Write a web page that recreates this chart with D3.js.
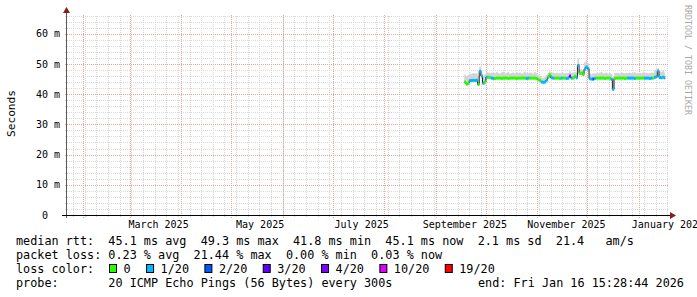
<!DOCTYPE html>
<html>
<head>
<meta charset="utf-8">
<script src="https://cdn.jsdelivr.net/npm/d3@7/dist/d3.min.js"></script>
<style>
body { margin: 0; background: #fff; }
svg { display: block; font-family: "DejaVu Sans Mono", monospace; }
text { white-space: pre; }
</style>
</head>
<body>
<svg width="697" height="297"></svg>
<script>
// daily median rtt (ms), from 18 Sep 2025
const medians = [
  44.0, 43.3, 43.6, 44.5, 44.5, 44.6, 44.5, 44.6, 43.2, 47.6,
  46.0, 43.6, 44.0, 45.6, 45.6, 45.5, 45.3, 45.2, 45.2, 45.3,
  45.3, 45.3, 45.2, 45.3, 45.3, 45.3, 45.2, 45.3, 45.3, 45.3,
  45.3, 45.2, 45.3, 45.3, 45.3, 45.3, 45.3, 45.2, 45.3, 45.3,
  45.3, 45.3, 45.3, 45.2, 44.8, 44.5, 44.0, 43.9, 44.0, 44.6,
  45.6, 46.4, 45.4, 45.3, 45.3, 45.3, 45.3, 45.2, 45.3, 45.3,
  45.3, 45.2, 45.3, 46.0, 45.3, 45.3, 45.9, 45.4, 49.5, 46.8,
  47.0, 46.5, 48.3, 49.0, 48.4, 45.1, 45.0, 45.0, 45.2, 45.3,
  45.3, 45.3, 45.3, 45.3, 45.2, 45.3, 45.3, 45.3, 44.9, 41.6,
  45.2, 45.3, 45.3, 45.3, 45.3, 45.3, 45.2, 45.3, 45.3, 45.3,
  45.3, 45.3, 45.2, 45.3, 45.3, 45.3, 45.3, 45.3, 45.3, 45.3,
  45.3, 45.2, 45.3, 45.3, 45.6, 45.8, 47.6, 45.5, 45.4, 45.6,
  45.4
];
// top of the smoke (slowest ping), ms
const smokeHi = [
  46.4, 46.0, 46.3, 46.8, 46.7, 47.0, 46.8, 46.9, 46.2, 49.0,
  47.8, 46.2, 46.6, 47.3, 47.2, 47.0, 47.2, 47.0, 46.9, 47.3,
  47.0, 46.8, 47.2, 47.4, 46.9, 47.1, 47.3, 46.8, 47.0, 47.2,
  46.9, 47.3, 47.0, 47.2, 46.8, 47.1, 47.4, 47.0, 46.9, 47.2,
  47.1, 46.8, 47.3, 46.9, 46.4, 46.0, 45.6, 45.4, 45.7, 46.3,
  47.0, 47.6, 47.0, 47.2, 46.9, 47.1, 47.0, 46.8, 47.2, 47.0,
  46.8, 47.1, 47.0, 47.6, 47.0, 47.2, 47.4, 47.1, 51.8, 48.2,
  48.4, 48.0, 50.6, 51.4, 50.2, 46.8, 46.6, 46.9, 46.8, 47.0,
  46.9, 47.1, 47.3, 46.9, 47.0, 47.2, 46.8, 47.0, 46.7, 45.6,
  46.9, 47.1, 47.0, 46.8, 47.2, 47.0, 46.9, 47.1, 47.0, 47.2,
  46.9, 47.0, 47.3, 46.8, 47.1, 47.0, 46.9, 47.2, 47.0, 47.1,
  46.8, 47.0, 47.2, 47.1, 47.8, 48.3, 48.6, 47.6, 47.4, 47.8,
  47.2
];
// lost pings out of 20
const lossCount = [
  0, 0, 0, 1, 1, 1, 1, 1, 0, 1,
  1, 1, 0, 1, 0, 0, 1, 1, 0, 0,
  0, 0, 0, 0, 0, 0, 0, 0, 0, 0,
  0, 0, 0, 0, 0, 0, 0, 1, 1, 0,
  0, 0, 0, 0, 0, 0, 1, 1, 1, 1,
  0, 0, 1, 1, 0, 0, 0, 0, 1, 0,
  0, 1, 1, 4, 1, 0, 0, 1, 1, 0,
  0, 0, 1, 1, 1, 1, 1, 2, 1, 0,
  0, 0, 0, 0, 0, 0, 0, 0, 1, 1,
  0, 0, 0, 0, 0, 0, 0, 0, 1, 1,
  1, 1, 1, 0, 0, 0, 0, 0, 1, 1,
  1, 1, 1, 0, 1, 1, 1, 1, 1, 1,
  1
];
const lossSteps = [0, 1, 2, 3, 4, 10, 19];
const lossLabels = ["0", "1/20", "2/20", "3/20", "4/20", "10/20", "19/20"];
const lossColors = ["#26ff00", "#00b8ff", "#0059ff", "#5e00ff", "#7e00ff", "#dd00ff", "#ff0000"];
const yTicks = [0, 10, 20, 30, 40, 50, 60];
const legendLines = [
  "median rtt:  45.1 ms avg  49.3 ms max  41.8 ms min  45.1 ms now  2.1 ms sd  21.4   am/s",
  "packet loss: 0.23 % avg  21.44 % max  0.00 % min  0.03 % now",
  "loss color:",
  "probe:       20 ICMP Echo Pings (56 Bytes) every 300s"
];
const endLabel = "end: Fri Jan 16 15:28:44 2026";

const svg = d3.select('svg');
const pLeft = 67, pRight = 668, pTop = 15, pBottom = 215;

const firstDay = new Date(2025, 8, 18);
const endTime = new Date(2026, 0, 16, 15, 28, 44);
const t0 = new Date(2025, 0, 22, 9, 20);
const t1 = new Date(2026, 0, 18, 10, 5);

const x = d3.scaleTime().domain([t0, t1]).range([pLeft, pRight]);
const y = d3.scaleLinear().domain([0, 66.2]).range([pBottom, pTop]);

const lossColor = n => {
  let c = lossColors[0];
  lossSteps.forEach((s, i) => { if (n >= s) c = lossColors[i]; });
  return c;
};

const pts = medians.map((m, i) => ({
  t: d3.timeDay.offset(firstDay, i), m: m, hi: smokeHi[i], loss: lossCount[i]
}));
pts.forEach((p, i) => { p.t2 = i < pts.length - 1 ? pts[i + 1].t : endTime; });
const stepPts = pts.concat([{ t: endTime, m: pts[pts.length - 1].m, hi: pts[pts.length - 1].hi }]);

// grid
const grid = svg.append('g').attr('shape-rendering', 'crispEdges');
const minorY = d3.range(0, 67, 2).filter(v => v % 10 !== 0);
grid.selectAll('.hmin').data(minorY).enter().append('line')
  .attr('x1', pLeft - 2).attr('x2', pRight)
  .attr('y1', d => Math.round(y(d)) + 0.5).attr('y2', d => Math.round(y(d)) + 0.5)
  .attr('stroke', '#dadada').attr('stroke-dasharray', '1,1');
const weeks = d3.timeWeek.range(t0, t1);
grid.selectAll('.vmin').data(weeks).enter().append('line')
  .attr('y1', pBottom + 2).attr('y2', pTop)
  .attr('x1', d => Math.round(x(d)) + 0.5).attr('x2', d => Math.round(x(d)) + 0.5)
  .attr('stroke', '#d6d6d6').attr('stroke-dasharray', '1,1');
grid.selectAll('.hmaj').data(yTicks.slice(1)).enter().append('line')
  .attr('x1', pLeft - 2).attr('x2', pRight)
  .attr('y1', d => Math.round(y(d)) + 0.5).attr('y2', d => Math.round(y(d)) + 0.5)
  .attr('stroke', '#e8a4a4').attr('stroke-dasharray', '1,1');
const months = d3.timeMonth.range(t0, t1);
grid.selectAll('.vmaj').data(months).enter().append('line')
  .attr('y1', pBottom + 3).attr('y2', pTop)
  .attr('x1', d => Math.round(x(d)) + 0.5).attr('x2', d => Math.round(x(d)) + 0.5)
  .attr('stroke', '#e8a4a4').attr('stroke-dasharray', '1,1');

// smoke
svg.append('path')
  .datum(stepPts)
  .attr('fill', '#d4d4d4')
  .attr('d', d3.area().curve(d3.curveStepAfter)
    .x(d => x(d.t)).y0(d => y(d.m)).y1(d => y(d.hi)));

// median: black steps, then loss coloured band
svg.append('path')
  .datum(stepPts)
  .attr('fill', 'none').attr('stroke', '#202020').attr('stroke-width', 1)
  .attr('d', d3.line().curve(d3.curveStepAfter).x(d => x(d.t)).y(d => y(d.m)));
svg.selectAll('.med').data(pts).enter().append('rect')
  .attr('x', d => x(d.t)).attr('width', d => x(d.t2) - x(d.t) + 0.3)
  .attr('y', d => y(d.m) - 1.5).attr('height', 3)
  .attr('fill', d => lossColor(d.loss));

// axes
svg.append('line').attr('x1', pLeft - 0.5).attr('x2', pLeft - 0.5)
  .attr('y1', pBottom + 3).attr('y2', 12).attr('stroke', '#5a5a5a');
svg.append('line').attr('x1', pLeft - 5).attr('x2', 670)
  .attr('y1', pBottom + 0.5).attr('y2', pBottom + 0.5).attr('stroke', '#000');
svg.append('path').attr('d', `M670,${pBottom - 3}L676,${pBottom + 0.5}L670,${pBottom + 4}Z`).attr('fill', '#8b1a1a');
svg.append('path').attr('d', `M${pLeft - 4},13L${pLeft - 0.5},7L${pLeft + 3},13Z`).attr('fill', '#8b1a1a');

// y labels
svg.selectAll('.ylab').data(yTicks).enter().append('text')
  .attr('x', d => d === 0 ? 48 : 60).attr('y', d => y(d) + 3.6)
  .attr('text-anchor', 'end').attr('font-size', 10).attr('fill', '#000')
  .text(d => d === 0 ? '0' : d + ' m');

// x labels
const labelMonths = d3.timeMonth.every(2).range(new Date(2025, 2, 1), t1);
svg.selectAll('.xlab').data(labelMonths).enter().append('text')
  .attr('x', d => x(new Date(+d + 17.4 * 864e5))).attr('y', 228)
  .attr('text-anchor', 'middle').attr('font-size', 10).attr('fill', '#000')
  .text(d => d3.timeFormat('%B %Y')(d));

svg.append('text').attr('transform', 'translate(11,113.5) rotate(-90)')
  .attr('text-anchor', 'middle').attr('dy', '0.35em')
  .attr('font-size', 11.2).attr('fill', '#000').text('Seconds');

svg.append('text').attr('transform', 'translate(688,5) rotate(90)')
  .attr('dy', '0.35em').attr('font-size', 8.5).attr('fill', '#a8a8a8')
  .attr('textLength', 110).attr('lengthAdjust', 'spacingAndGlyphs')
  .text('RRDTOOL / TOBI OETIKER');

// legend
const cw = 7.08;
svg.selectAll('.leg').data(legendLines).enter().append('text')
  .attr('x', 16).attr('y', (d, i) => 245 + i * 14)
  .attr('font-size', 11.8).attr('fill', '#000')
  .text(d => d);
svg.append('text').attr('x', 478).attr('y', 287)
  .attr('font-size', 11.8).attr('fill', '#000').text(endLabel);

let sx = 109;
lossLabels.forEach((lab, i) => {
  svg.append('rect').attr('x', sx + 0.5).attr('y', 264.5).attr('width', 7).attr('height', 8)
    .attr('fill', lossColors[i]).attr('stroke', '#000');
  svg.append('text').attr('x', sx + 14.5).attr('y', 273)
    .attr('font-size', 11.8).attr('fill', '#000').text(lab);
  sx = sx + 14.5 + lab.length * cw + 15.5;
});
</script>
</body>
</html>
